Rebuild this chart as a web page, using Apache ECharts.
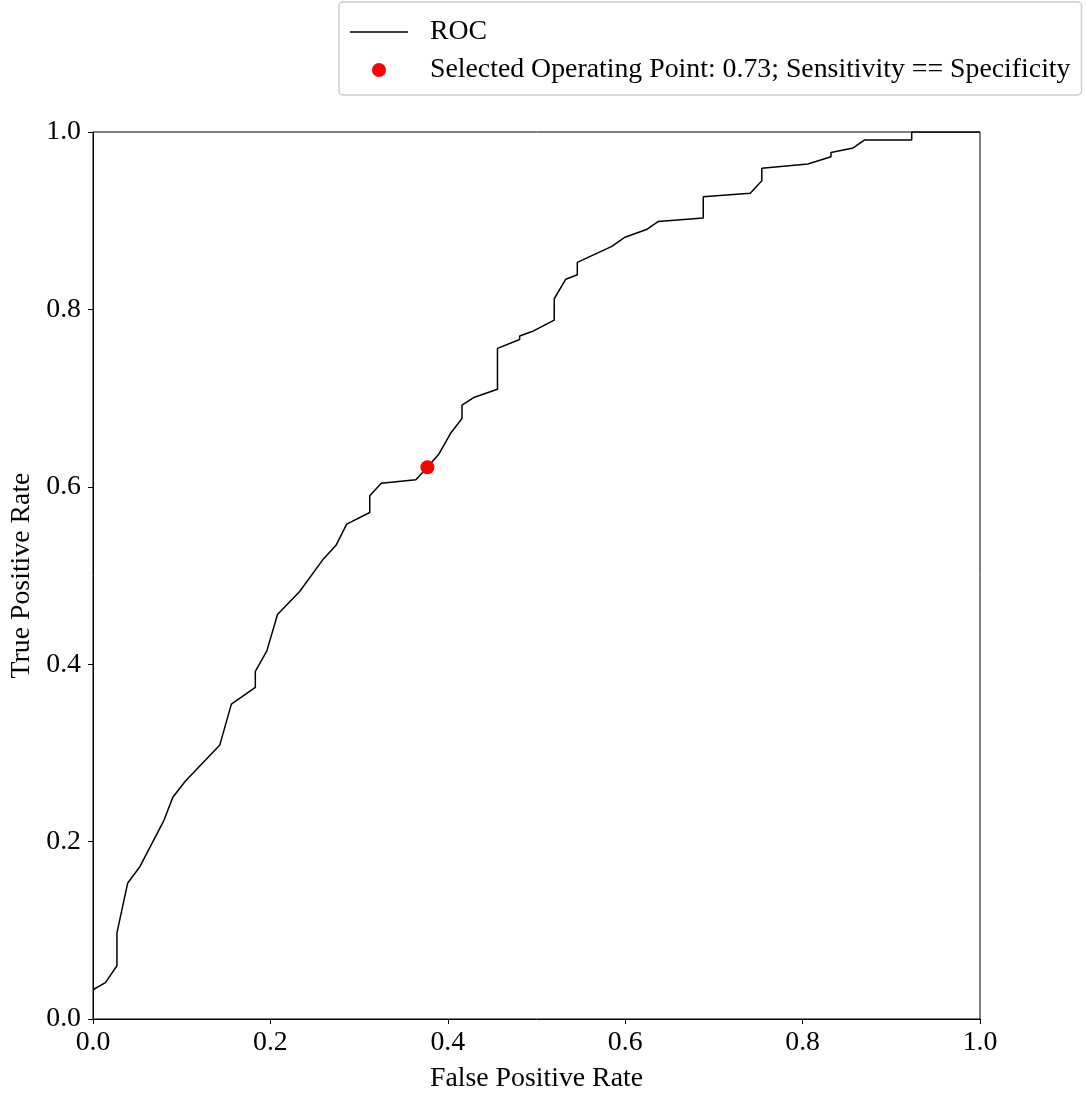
<!DOCTYPE html>
<html>
<head>
<meta charset="utf-8">
<script src="https://cdn.jsdelivr.net/npm/echarts@6/dist/echarts.min.js"></script>
<style>
  html, body { margin: 0; padding: 0; background: #fff; }
  #roc { width: 1086px; height: 1093px; }
</style>
</head>
<body>
<div id="roc"></div>
<script>
// ROC curve points
var fpr = [0.0, 0.014, 0.027, 0.027, 0.039, 0.053, 0.080, 0.090, 0.104, 0.143, 0.156, 0.183, 0.183, 0.196, 0.208,
  0.233, 0.260, 0.274, 0.286, 0.312, 0.312, 0.325, 0.364, 0.377, 0.390, 0.403, 0.416, 0.416, 0.430, 0.456,
  0.456, 0.481, 0.481, 0.495, 0.520, 0.520, 0.533, 0.546, 0.546, 0.585, 0.599, 0.624, 0.637, 0.688, 0.688,
  0.741, 0.754, 0.754, 0.806, 0.832, 0.832, 0.857, 0.870, 0.923, 0.923, 1.0];
var tpr = [0.033, 0.041, 0.060, 0.097, 0.153, 0.172, 0.224, 0.250, 0.268, 0.309, 0.355, 0.374, 0.392, 0.415, 0.456,
  0.482, 0.519, 0.534, 0.558, 0.571, 0.590, 0.604, 0.608, 0.622, 0.637, 0.660, 0.677, 0.692, 0.701, 0.710,
  0.756, 0.766, 0.770, 0.775, 0.788, 0.812, 0.834, 0.839, 0.853, 0.871, 0.881, 0.890, 0.899, 0.903, 0.927,
  0.931, 0.945, 0.959, 0.964, 0.972, 0.977, 0.982, 0.991, 0.991, 1.0, 1.0];
var opPoint = [0.377, 0.622];
var rocName = "ROC";
var opName = "Selected Operating Point: 0.73; Sensitivity == Specificity";

var rocData = [];
for (var i = 0; i < fpr.length; i++) {
  rocData.push([fpr[i], tpr[i]]);
}

var serif = "'Liberation Serif', 'Times New Roman', serif";
var fs = 27.8;
var chart = echarts.init(document.getElementById("roc"));

var axisCommon = {
  type: "value",
  min: 0,
  max: 1,
  interval: 0.2,
  splitLine: { show: false },
  axisLine: { show: true, lineStyle: { color: "#000", width: 1 } },
  axisTick: { show: true, inside: false, length: 5, lineStyle: { color: "#000" } },
  axisLabel: {
    color: "#000",
    fontFamily: serif,
    fontSize: fs,
    formatter: function (v) { return v.toFixed(1); }
  },
  nameLocation: "middle",
  nameTextStyle: { color: "#000", fontFamily: serif, fontSize: fs }
};

var option = {
  animation: false,
  backgroundColor: "#fff",
  grid: {
    left: 93,
    right: 106,
    top: 132,
    bottom: 74,
    outerBoundsMode: "none",
    containLabel: false,
    show: true,
    borderColor: "#000",
    borderWidth: 1
  },
  legend: {
    orient: "vertical",
    left: 339,
    top: 2,
    padding: [16, 11, 11, 11],
    itemGap: 10,
    itemWidth: 58,
    itemHeight: 14,
    borderColor: "#cccccc",
    borderWidth: 1.5,
    borderRadius: 4,
    textStyle: {
      color: "#000",
      fontFamily: serif,
      fontSize: fs,
      padding: [0, 0, 0, 17]
    },
    data: [
      { name: rocName, icon: "path://M0,0 L58,0 L58,1.5 L0,1.5 Z", itemStyle: { color: "#000" } },
      { name: opName, icon: "circle" }
    ]
  },
  xAxis: Object.assign({}, axisCommon, {
    name: "False Positive Rate",
    nameGap: 46,
    axisLabel: Object.assign({}, axisCommon.axisLabel, { margin: 10 })
  }),
  yAxis: Object.assign({}, axisCommon, {
    name: "True Positive Rate",
    nameGap: 55,
    axisLabel: Object.assign({}, axisCommon.axisLabel, { margin: 12 })
  }),
  series: [
    {
      name: rocName,
      type: "line",
      data: rocData,
      symbol: "none",
      lineStyle: { color: "#000", width: 1.5 },
      itemStyle: { color: "#000" },
      z: 2
    },
    {
      name: opName,
      type: "scatter",
      data: [opPoint],
      symbolSize: 14,
      itemStyle: { color: "#ff0000", opacity: 1 },
      z: 3
    }
  ]
};
chart.setOption(option);
</script>
</body>
</html>
